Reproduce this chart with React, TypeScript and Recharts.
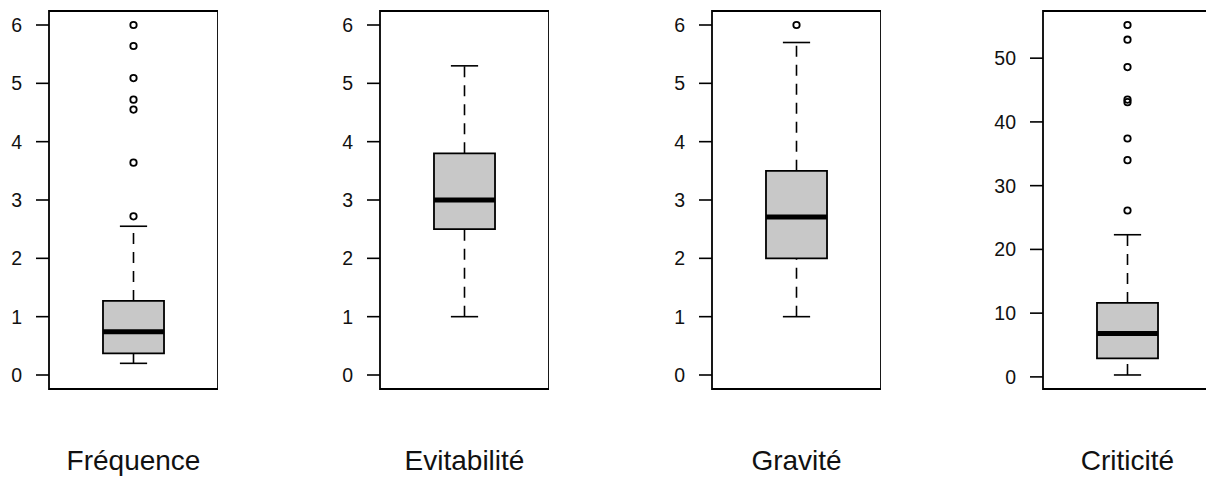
import { ComposedChart, XAxis, YAxis, ReferenceArea, ReferenceLine, Scatter } from 'recharts';

// Box plot summaries
const categories = ['Fréquence', 'Evitabilité', 'Gravité', 'Criticité'];
const mins = [0.2, 1.0, 1.0, 0.3];
const q1s = [0.37, 2.5, 2.0, 2.9];
const medians = [0.74, 3.0, 2.71, 6.8];
const q3s = [1.27, 3.8, 3.5, 11.6];
const maxs = [2.55, 5.3, 5.7, 22.3];
const outliers = [
  [2.72, 3.64, 4.55, 4.72, 5.09, 5.64, 6.0],
  [],
  [6.0],
  [26.1, 34.0, 37.4, 43.1, 43.5, 48.6, 52.9, 55.2],
];
const yTicks = [
  [0, 1, 2, 3, 4, 5, 6],
  [0, 1, 2, 3, 4, 5, 6],
  [0, 1, 2, 3, 4, 5, 6],
  [0, 10, 20, 30, 40, 50],
];
const yDomains = [
  [-0.24, 6.24],
  [-0.24, 6.24],
  [-0.24, 6.24],
  [-1.9, 57.4],
];

const X_DOMAIN = [0.46, 1.54];
const FONT = '"Liberation Sans", Arial, sans-serif';

function Outlier(props: any) {
  return <circle cx={props.cx} cy={props.cy} r={3.2} fill="none" stroke="#000" strokeWidth={1.8} />;
}

function BoxPanel({ i }: { i: number }) {
  const name = categories[i];
  const [lo, hi] = yDomains[i];
  const pts = outliers[i].map((v) => ({ x: 1, y: v }));
  return (
    <div style={{ position: 'absolute', left: Math.round(i * 331.3), top: 0 }}>
      <ComposedChart width={218} height={488} margin={{ top: 11, right: 0, bottom: 0, left: 0 }} style={{ fontFamily: FONT }}>
        <XAxis
          type="number"
          dataKey="x"
          domain={X_DOMAIN}
          ticks={[1]}
          tickFormatter={() => name}
          axisLine={false}
          tickLine={false}
          tickSize={0}
          tickMargin={61}
          height={99}
          allowDataOverflow
          tick={{ fontSize: 28, fill: '#111' }}
        />
        <YAxis
          type="number"
          dataKey="y"
          domain={[lo, hi]}
          ticks={yTicks[i]}
          width={49}
          axisLine={false}
          tickSize={13}
          tickMargin={14}
          allowDataOverflow
          tickLine={{ stroke: '#000', strokeWidth: 1.6 }}
          tick={{ fontSize: 19.5, fill: '#111' }}
        />
        {/* panel frame */}
        <ReferenceArea
          x1={X_DOMAIN[0]}
          x2={X_DOMAIN[1]}
          y1={lo}
          y2={hi}
          fill="none"
          stroke="#000"
          strokeWidth={1.8}
          fillOpacity={0}
          ifOverflow="visible"
        />
        {/* whiskers */}
        <ReferenceLine
          segment={[{ x: 1, y: mins[i] }, { x: 1, y: q1s[i] }]}
          stroke="#000"
          strokeWidth={1.6}
          strokeDasharray="11 8"
          ifOverflow="visible"
        />
        <ReferenceLine
          segment={[{ x: 1, y: q3s[i] }, { x: 1, y: maxs[i] }]}
          stroke="#000"
          strokeWidth={1.6}
          strokeDasharray="11 8"
          ifOverflow="visible"
        />
        <ReferenceLine
          segment={[{ x: 0.913, y: mins[i] }, { x: 1.087, y: mins[i] }]}
          stroke="#000"
          strokeWidth={1.6}
          ifOverflow="visible"
        />
        <ReferenceLine
          segment={[{ x: 0.913, y: maxs[i] }, { x: 1.087, y: maxs[i] }]}
          stroke="#000"
          strokeWidth={1.6}
          ifOverflow="visible"
        />
        {/* box */}
        <ReferenceArea
          x1={0.805}
          x2={1.195}
          y1={q1s[i]}
          y2={q3s[i]}
          fill="#c8c8c8"
          fillOpacity={1}
          stroke="#000"
          strokeWidth={1.8}
          ifOverflow="visible"
        />
        <ReferenceLine
          segment={[{ x: 0.805, y: medians[i] }, { x: 1.195, y: medians[i] }]}
          stroke="#000"
          strokeWidth={5}
          ifOverflow="visible"
        />
        <Scatter data={pts} dataKey="y" shape={Outlier} isAnimationActive={false} />
      </ComposedChart>
    </div>
  );
}

export default function App() {
  return (
    <div
      style={{
        position: 'absolute',
        left: 0,
        top: 0,
        width: 1206,
        height: 488,
        overflow: 'hidden',
        background: '#fff',
      }}
    >
      {categories.map((c, i) => (
        <BoxPanel key={c} i={i} />
      ))}
    </div>
  );
}
